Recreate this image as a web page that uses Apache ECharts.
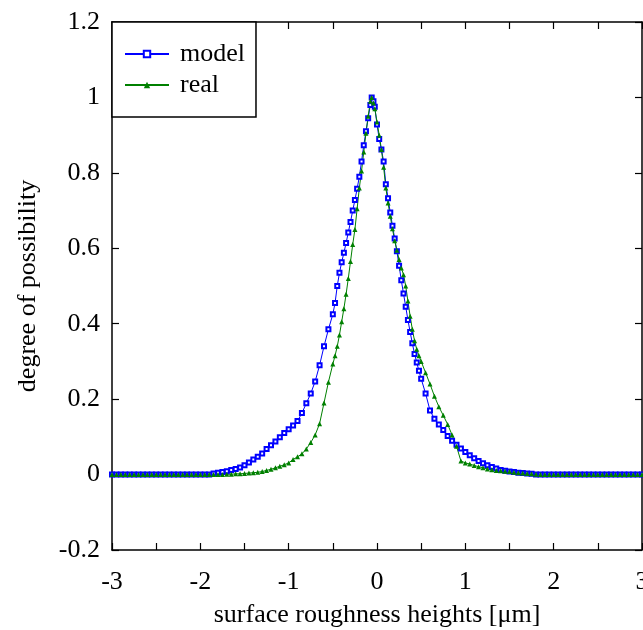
<!DOCTYPE html>
<html>
<head>
<meta charset="utf-8">
<script src="https://cdn.jsdelivr.net/npm/echarts@6/dist/echarts.min.js"></script>
<style>html,body{margin:0;padding:0;background:#fff}#c{width:643px;height:630px}</style>
</head>
<body>
<div id="c"></div>
<script>
var heights = [
-3.00,-2.95,-2.90,-2.85,-2.80,-2.75,-2.70,-2.65,-2.60,-2.55,
-2.50,-2.45,-2.40,-2.35,-2.30,-2.25,-2.20,-2.15,-2.10,-2.05,
-2.00,-1.95,-1.90,-1.85,-1.80,-1.75,-1.70,-1.65,-1.60,-1.55,
-1.50,-1.45,-1.40,-1.35,-1.30,-1.25,-1.20,-1.15,-1.10,-1.05,
-1.00,-0.95,-0.90,-0.85,-0.80,-0.75,-0.70,-0.65,-0.60,-0.55,
-0.500,-0.475,-0.450,-0.425,-0.400,-0.375,-0.350,-0.325,-0.300,-0.275,
-0.250,-0.225,-0.200,-0.175,-0.150,-0.125,-0.100,-0.075,-0.060,-0.040,
-0.025,0.000,0.025,0.050,0.075,0.100,0.125,0.150,0.175,0.200,
0.225,0.250,0.275,0.300,0.325,0.350,0.375,0.400,0.425,0.450,
0.475,0.500,0.55,0.60,0.65,0.70,0.75,0.80,0.85,0.90,
0.95,1.00,1.05,1.10,1.15,1.20,1.25,1.30,1.35,1.40,
1.45,1.50,1.55,1.60,1.65,1.70,1.75,1.80,1.85,1.90,
1.95,2.00,2.05,2.10,2.15,2.20,2.25,2.30,2.35,2.40,
2.45,2.50,2.55,2.60,2.65,2.70,2.75,2.80,2.85,2.90,
2.95,3.00];

var modelValues = [
0,0,0,0,0,0,0,0,0,0,
0,0,0,0,0,0,0,0,0,0,
0,0,0,0.003,0.005,0.007,0.009,0.012,0.015,0.019,
0.025,0.032,0.040,0.047,0.056,0.068,0.078,0.088,0.099,0.110,
0.120,0.130,0.142,0.163,0.189,0.215,0.247,0.290,0.340,0.385,
0.425,0.455,0.500,0.535,0.563,0.588,0.614,0.642,0.670,0.700,
0.728,0.758,0.790,0.830,0.873,0.910,0.945,0.980,1.000,0.990,
0.975,0.928,0.890,0.862,0.830,0.770,0.733,0.695,0.660,0.626,
0.592,0.554,0.515,0.480,0.445,0.410,0.378,0.348,0.320,0.297,
0.275,0.254,0.215,0.170,0.148,0.133,0.118,0.102,0.090,0.079,
0.069,0.060,0.051,0.043,0.036,0.030,0.025,0.020,0.016,0.012,
0.010,0.008,0.007,0.005,0.004,0.003,0.002,0,0,0,
0,0,0,0,0,0,0,0,0,0,
0,0,0,0,0,0,0,0,0,0,
0,0];

var realValues = [
0,0,0,0,0,0,0,0,0,0,
0,0,0,0,0,0,0,0,0,0,
0,0,0,0,0,0,0.001,0.001,0.002,0.002,
0.003,0.004,0.005,0.006,0.008,0.011,0.014,0.018,0.022,0.026,
0.031,0.040,0.047,0.055,0.068,0.085,0.105,0.135,0.190,0.245,
0.293,0.315,0.340,0.370,0.405,0.440,0.478,0.520,0.565,0.610,
0.650,0.705,0.760,0.805,0.855,0.905,0.950,0.990,1.000,0.985,
0.970,0.935,0.900,0.862,0.815,0.760,0.720,0.685,0.652,0.620,
0.595,0.570,0.548,0.530,0.500,0.460,0.420,0.385,0.355,0.332,
0.315,0.300,0.270,0.240,0.208,0.180,0.157,0.133,0.105,0.075,
0.036,0.031,0.028,0.024,0.021,0.018,0.015,0.013,0.011,0.010,
0.009,0.008,0.006,0.005,0.004,0.003,0.002,0.001,0,0,
0,0,0,0,0,0,0,0,0,0,
0,0,0,0,0,0,0,0,0,0,
0,0];

var xTicks = {min: -3, max: 3, step: 1};
var yTicks = {min: -0.2, max: 1.2, step: 0.2};
var seriesNames = ['model', 'real'];

function pairs(xs, ys) { return xs.map(function (x, i) { return [x, ys[i]]; }); }

var FONT = 'Liberation Serif';
var axisCommon = {
  axisLine: {show: true, onZero: false, lineStyle: {color: '#000', width: 1.5}},
  axisTick: {show: true, inside: true, length: 7, lineStyle: {color: '#000', width: 1.2}},
  splitLine: {show: false}
};

var chart = echarts.init(document.getElementById('c'), null, {renderer: 'canvas'});
chart.setOption({
  animation: false,
  backgroundColor: '#fff',
  grid: {left: 112, right: 1, top: 22, bottom: 80, containLabel: false, outerBoundsMode: 'none'},
  legend: {
    orient: 'vertical', left: 112, top: 22,
    data: seriesNames,
    backgroundColor: '#fff', borderColor: '#000', borderWidth: 1.5,
    padding: [17, 11, 17, 12], itemGap: 1, itemWidth: 44, itemHeight: 8,
    textStyle: {fontFamily: FONT, fontSize: 26, color: '#000', lineHeight: 30, padding: [0, 0, 0, 6]},
    z: 10
  },
  xAxis: [
    Object.assign({
      type: 'value', position: 'bottom', min: xTicks.min, max: xTicks.max, interval: xTicks.step,
      name: 'surface roughness heights [\u03bcm]', nameLocation: 'middle', nameGap: 52,
      nameTextStyle: {fontFamily: FONT, fontSize: 26, color: '#000'},
      axisLabel: {fontFamily: FONT, fontSize: 26, color: '#000', margin: 19},
      minorTick: {show: true, splitNumber: 2, length: 7, lineStyle: {color: '#000', width: 1.2}}
    }, axisCommon),
    Object.assign({
      type: 'value', position: 'top', min: xTicks.min, max: xTicks.max, interval: xTicks.step,
      axisLabel: {show: false},
      minorTick: {show: true, splitNumber: 2, length: 7, lineStyle: {color: '#000', width: 1.2}}
    }, axisCommon)
  ],
  yAxis: [
    Object.assign({
      type: 'value', position: 'left', min: yTicks.min, max: yTicks.max, interval: yTicks.step,
      name: 'degree of possibility', nameLocation: 'middle', nameGap: 71, nameRotate: 90,
      nameTextStyle: {fontFamily: FONT, fontSize: 26, color: '#000'},
      axisLabel: {fontFamily: FONT, fontSize: 26, color: '#000', margin: 12}
    }, axisCommon),
    Object.assign({
      type: 'value', position: 'right', min: yTicks.min, max: yTicks.max, interval: yTicks.step,
      axisLabel: {show: false}
    }, axisCommon)
  ],
  series: [
    {
      name: seriesNames[0], type: 'line', xAxisIndex: 0, yAxisIndex: 0,
      data: pairs(heights, modelValues),
      symbol: 'emptyRect', symbolSize: 4, showAllSymbol: true,
      lineStyle: {color: '#0000ff', width: 1},
      itemStyle: {color: '#0000ff', borderColor: '#0000ff', borderWidth: 1}
    },
    {
      name: seriesNames[1], type: 'line', xAxisIndex: 0, yAxisIndex: 0,
      data: pairs(heights, realValues),
      symbol: 'triangle', symbolSize: 5, showAllSymbol: true,
      lineStyle: {color: '#008000', width: 1},
      itemStyle: {color: '#008000'}
    }
  ]
});
</script>
</body>
</html>
